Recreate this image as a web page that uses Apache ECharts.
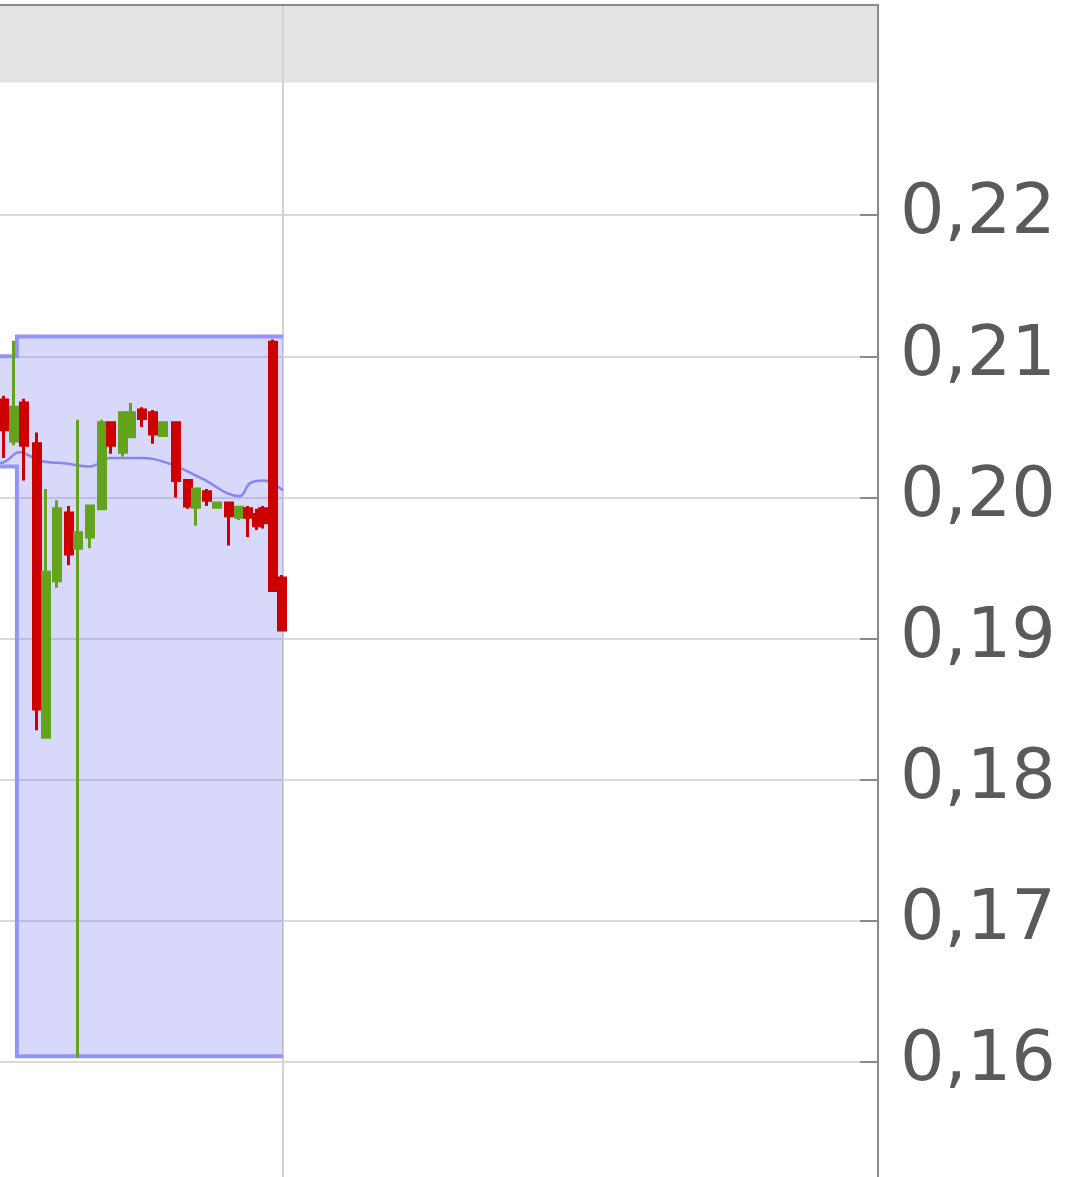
<!DOCTYPE html>
<html>
<head>
<meta charset="utf-8">
<script src="https://cdn.jsdelivr.net/npm/echarts@6/dist/echarts.min.js"></script>
<style>
html,body{margin:0;padding:0;background:#fff;}
#c{width:1090px;height:1177px;}
</style>
</head>
<body>
<div id="c"></div>
<script>
// time slot of each candle (units of one candle interval)
const slots = [0.00,0.97,1.94,3.19,4.07,5.13,6.29,7.16,8.33,9.49,10.36,11.52,12.29,13.36,14.42,15.39,16.65,17.81,18.59,19.65,20.62,21.78,22.75,23.62,24.49,25.07,26.04,26.91];
const opens  = [0.2069,0.2040,0.2067,0.2038,0.1830,0.1941,0.1989,0.1964,0.1972,0.1992,0.2053,0.2032,0.2043,0.2062,0.2060,0.2044,0.2053,0.2012,0.1993,0.2004,0.1993,0.1996,0.1986,0.1992,0.1988,0.1992,0.2110,0.1943];
const closes = [0.2048,0.2064,0.2037,0.1850,0.1947,0.1992,0.1960,0.1975,0.1994,0.2053,0.2037,0.2060,0.2060,0.2056,0.2045,0.2053,0.2012,0.1994,0.2006,0.1998,0.1996,0.1987,0.1993,0.1986,0.1980,0.1982,0.1934,0.1906];
const lows   = [0.2028,0.2037,0.2012,0.1835,0.1830,0.1936,0.1952,0.1603,0.1964,0.1992,0.2031,0.2029,0.2043,0.2050,0.2038,0.2044,0.2000,0.1992,0.1980,0.1994,0.1993,0.1966,0.1984,0.1972,0.1977,0.1978,0.1934,0.1906];
const highs  = [0.2072,0.2111,0.2070,0.2046,0.2006,0.1998,0.1994,0.2055,0.1994,0.2055,0.2054,0.2061,0.2067,0.2064,0.2062,0.2054,0.2053,0.2013,0.2007,0.2006,0.1997,0.1997,0.1993,0.1994,0.1992,0.1994,0.2112,0.1945];

// moving average line
const maSlots  = [-1.0,0.0,1.5,3.5,6.0,8.3,10.3,13.2,16.0,19.0,22.8,23.8,25.1,27.0];
const maValues = [0.2024,0.2025,0.2032,0.2026,0.2024,0.2022,0.2028,0.2028,0.2024,0.2014,0.2001,0.2010,0.2012,0.2005];

// day range band (high / low), stepped
const bandSlots = [-2.0,1.25,1.25,27.0];
const bandHigh  = [0.2100,0.2100,0.2114,0.2114];
const bandLow   = [0.2022,0.2022,0.1604,0.1604];

const dayBoundary = 27.0;
const yTicks = [0.16,0.17,0.18,0.19,0.20,0.21,0.22];

const candleData = slots.map((t,i)=>[t, opens[i], closes[i], lows[i], highs[i]]);
const maData = maSlots.map((t,i)=>[t, maValues[i]]);
const bandData = bandSlots.map((t,i)=>[t, bandHigh[i], bandLow[i]]);

const chart = echarts.init(document.getElementById('c'), null, {renderer:'canvas'});
const RED = '#cc0000', GREEN = '#63a31d', BAND = '#9494f6';

function renderBand(params, api){
  if (params.dataIndex !== 0) return null;
  const up = bandData.map(d=>api.coord([d[0], d[1]]));
  const lo = bandData.map(d=>api.coord([d[0], d[2]]));
  const poly = up.concat(lo.slice().reverse());
  return {
    type:'group',
    children:[
      {type:'polygon', shape:{points:poly}, style:{fill:'rgba(115,115,240,0.28)', stroke:null}},
      {type:'polyline', shape:{points:up}, style:{fill:null, stroke:BAND, lineWidth:4}},
      {type:'polyline', shape:{points:lo}, style:{fill:null, stroke:BAND, lineWidth:4}}
    ]
  };
}

chart.setOption({
  animation:false,
  grid:{left:0, right:212, top:5, height:1198, outerBoundsMode:'none', containLabel:false},
  xAxis:{
    type:'value', min:-0.387, max:84.6, position:'top', z:10,
    axisLine:{show:true, onZero:false, lineStyle:{color:'#8a8a8a', width:2}},
    axisTick:{show:false}, axisLabel:{show:false}, splitLine:{show:false}
  },
  yAxis:{
    type:'value', position:'right', min:0.15, max:0.2349, interval:0.01,
    axisLine:{show:true, onZero:false, lineStyle:{color:'#8a8a8a', width:2}},
    axisTick:{show:true, inside:true, length:18, lineStyle:{color:'#8a8a8a', width:2}},
    axisLabel:{
      margin:22, color:'#5a5a5a', fontFamily:'DejaVu Sans', fontSize:70,
      formatter:function(v){
        const r = Math.round(v*100)/100;
        return yTicks.some(t=>Math.abs(t-r)<1e-9) ? r.toFixed(2).replace('.',',') : '';
      }
    },
    splitLine:{show:true, lineStyle:{color:'#dadada', width:2}}
  },
  series:[
    {
      type:'custom', name:'range', data:bandData, clip:true, z:2,
      encode:{x:0, y:[1,2]},
      renderItem:renderBand,
      markArea:{
        silent:true, z:1,
        itemStyle:{color:'#e3e3e3'},
        data:[[{xAxis:-0.387, yAxis:0.2294},{xAxis:84.5, yAxis:0.2349}]]
      }
    },
    {
      type:'line', name:'ma', data:maData, symbol:'none', smooth:0.4,
      lineStyle:{color:'#8686f2', width:2.5}, z:3,
      markLine:{
        silent:true, symbol:'none', z:1.5,
        label:{show:false},
        lineStyle:{color:'#d2d2d2', width:2, type:'solid'},
        data:[{xAxis:dayBoundary}]
      }
    },
    {
      type:'candlestick', name:'price', data:candleData,
      encode:{x:0, y:[1,2,3,4]},
      barWidth:7.5, z:4,
      itemStyle:{color:GREEN, color0:RED, borderColor:GREEN, borderColor0:RED, borderWidth:3}
    }
  ]
});
</script>
</body>
</html>
